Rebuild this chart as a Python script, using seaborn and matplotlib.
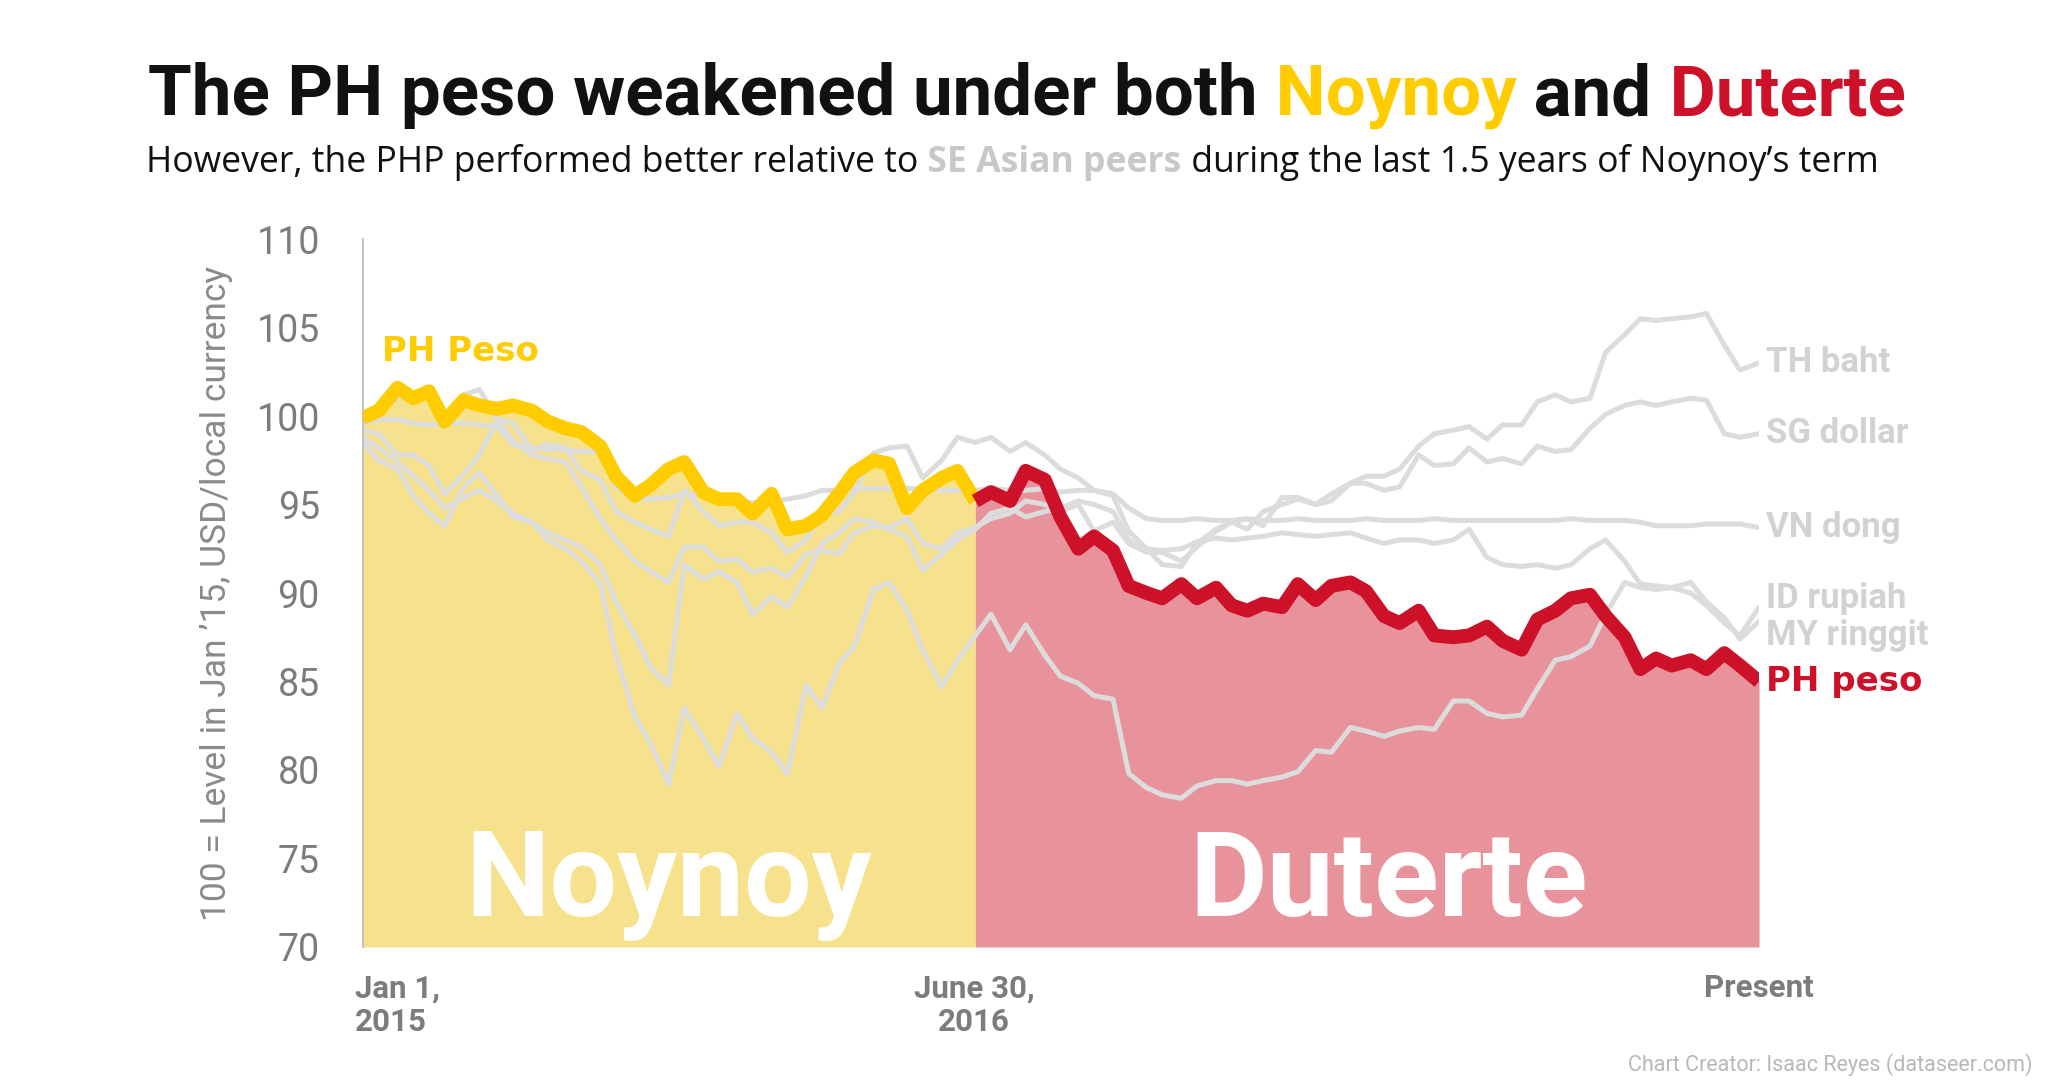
import pandas as pd
import matplotlib
matplotlib.use("Agg")
import matplotlib.pyplot as plt
import matplotlib.transforms as mtransforms
import seaborn as sns

sns.set_style("white")
plt.rcParams["font.family"] = ["Roboto", "DejaVu Sans"]

# semi-monthly readings, Jan 1 2015 -> Jun 1 2018 (83 points)
dates = pd.date_range("2015-01-01", "2018-06-01", freq="SMS")
term_change = pd.Timestamp("2016-06-30")
n_noynoy = 37  # points up to Jul 1 2016

ph_peso = [99.9, 100.3, 101.6, 101.0, 101.4, 99.7, 100.9, 100.6, 100.4, 100.6,
           100.3, 99.7, 99.3, 99.1, 98.3, 96.6, 95.5, 96.1, 97.0, 97.4,
           95.7, 95.3, 95.3, 94.5, 95.6, 93.6, 93.8, 94.4, 95.6, 96.8,
           97.5, 97.3, 94.8, 95.8, 96.5, 96.9, 95.2,
           95.7, 95.2, 96.9, 96.4, 94.3, 92.5, 93.2, 92.4, 90.4, 90.0,
           89.7, 90.5, 89.7, 90.3, 89.3, 89.0, 89.4, 89.2, 90.5, 89.6,
           90.4, 90.6, 90.1, 88.7, 88.3, 89.0, 87.6, 87.5, 87.6, 88.1,
           87.3, 86.8, 88.5, 89.0, 89.7, 89.9, 88.7, 87.5, 85.7, 86.3,
           85.9, 86.2, 85.7, 86.6, 85.9, 85.0]

th_baht = [99.6, 100.4, 101.0, 101.2, 101.3, 100.0, 101.2, 101.5, 99.8, 98.6,
           97.8, 97.6, 97.4, 96.0, 94.2, 93.0, 91.8, 91.2, 90.6, 92.6,
           92.6, 91.8, 91.9, 91.2, 91.4, 90.9, 92.2, 92.4, 92.2, 93.4,
           93.8, 93.7, 94.2, 92.8, 92.5, 93.4, 93.7,
           94.2, 94.5, 95.2, 95.0, 94.6, 95.0, 93.5, 94.0, 92.8, 92.3,
           92.3, 91.8, 92.6, 93.5, 94.0, 94.2, 93.8, 95.4, 95.4, 95.0,
           95.2, 96.2, 96.6,
           96.6, 97.0, 98.3, 99.0, 99.2, 99.4, 98.7, 99.5, 99.5, 100.8,
           101.2, 100.8, 101.0, 103.6, 104.6, 105.5, 105.4, 105.5, 105.6, 105.8,
           104.0, 102.6, 103.0]

sg_dollar = [99.2, 99.0, 97.8, 97.8, 97.2, 95.6, 96.7, 97.8, 99.8, 99.6,
             98.1, 98.4, 98.2, 96.9, 96.4, 94.6, 94.0, 93.6, 93.2, 95.8,
             94.6, 93.8, 94.0, 94.0, 93.4, 92.3, 93.0, 94.5, 94.6, 95.7,
             97.9, 98.2, 98.3, 96.5, 97.5, 98.8, 98.5,
             98.8, 98.0, 98.5, 97.8, 97.0, 96.5, 95.8, 95.5, 93.5, 92.5,
             91.6, 91.5, 92.8, 93.6, 94.0, 93.6, 94.6, 95.0, 95.3, 95.0,
             95.6, 96.2, 96.2,
             95.8, 96.0, 97.8, 97.2, 97.3, 98.2, 97.4, 97.6, 97.3, 98.3,
             98.0, 98.1, 99.3, 100.1, 100.6, 100.8, 100.6, 100.8, 101.0, 100.9,
             99.0, 98.8, 99.0]

vn_dong = [99.6, 99.8, 99.8, 99.6, 99.5, 99.6, 99.6, 99.5, 99.4, 98.4,
           98.2, 98.1, 98.1, 98.0, 98.0, 96.0, 95.3, 95.3, 95.4, 95.6,
           95.5, 95.3, 95.2, 95.1, 95.2, 95.3, 95.5, 95.8, 95.8, 95.9,
           95.9, 95.9, 95.9, 95.9, 95.8, 95.8, 95.8,
           95.9, 95.8, 95.8, 95.9, 95.7, 95.8, 95.8, 95.6, 94.8, 94.2,
           94.1, 94.1, 94.2, 94.1, 94.1, 94.2, 94.1, 94.1, 94.2, 94.1,
           94.1, 94.1, 94.2,
           94.1, 94.1, 94.1, 94.2, 94.1, 94.1, 94.1, 94.1, 94.1, 94.1,
           94.1, 94.2, 94.1, 94.1, 94.1, 94.0, 93.8, 93.8, 93.8, 93.9,
           93.9, 93.9, 93.7]

id_rupiah = [98.8, 98.2, 97.4, 96.6, 95.8, 94.8, 95.4, 95.8, 95.2, 94.5,
             94.0, 93.4, 93.0, 92.6, 91.6, 89.5, 87.6, 85.8, 84.8, 91.6,
             90.8, 91.2, 90.6, 88.8, 89.8, 89.2, 91.0, 92.8, 93.4, 94.2,
             94.0, 93.6, 93.2, 91.3, 92.2, 93.0, 93.6,
             94.5, 94.8, 94.3, 94.6, 94.8, 95.2, 95.0, 94.6, 93.0, 92.5,
             92.4, 92.5, 92.9, 93.1, 93.0, 93.1, 93.2, 93.4, 93.3, 93.2,
             93.3, 93.4, 93.1,
             92.8, 93.0, 93.0, 92.8, 93.0, 93.6, 92.0, 91.6, 91.5, 91.6,
             91.4, 91.6, 92.5, 93.0, 91.8, 90.5, 90.4, 90.3, 90.0, 89.3,
             88.3, 87.6, 89.2]

my_ringgit = [98.5, 97.5, 97.0, 95.5, 94.5, 93.8, 96.0, 96.8, 95.5, 94.3,
              94.0, 93.0, 92.5, 91.8, 90.5, 86.5, 83.0, 81.5, 79.2, 83.5,
              81.8, 80.2, 83.2, 81.8, 81.0, 79.8, 84.8, 83.5, 86.0, 87.0,
              90.2, 90.6, 89.0, 86.8, 84.7, 86.2, 87.6,
              88.8, 86.8, 88.2, 86.5, 85.3, 84.9, 84.2, 84.0, 79.8, 79.0,
              78.6, 78.4, 79.1, 79.4, 79.4, 79.2, 79.4, 79.6, 79.9, 81.1,
              81.0, 82.4, 82.2,
              81.9, 82.2, 82.4, 82.3, 83.9, 83.9, 83.2, 83.0, 83.1, 84.6,
              86.2, 86.4, 87.0, 88.8, 90.6, 90.3, 90.2, 90.3, 90.6, 89.5,
              88.6, 87.4, 88.4]

peer_names = ["TH baht", "SG dollar", "VN dong", "ID rupiah", "MY ringgit"]
peer_values = [th_baht, sg_dollar, vn_dong, id_rupiah, my_ringgit]
label_nudge = {"TH baht": 0, "SG dollar": 0, "VN dong": 0, "ID rupiah": 6, "MY ringgit": -10}

YELLOW = "#FFCC00"
RED = "#CC1129"
YELLOW_FILL = "#F6E28C"
RED_FILL = "#E8939B"
PEER_GRAY = "#DCDCDC"
LABEL_GRAY = "#D2D2D2"
AXIS_GRAY = "#7C7C7C"

peers = pd.concat(
    [pd.DataFrame({"date": dates, "value": v, "currency": n}) for n, v in zip(peer_names, peer_values)],
    ignore_index=True,
)
ph = pd.DataFrame({"date": dates, "value": ph_peso})
noynoy = ph.iloc[:n_noynoy]
duterte = ph.iloc[n_noynoy - 1:]

fig = plt.figure(figsize=(20.48, 10.85), dpi=100)
ax = fig.add_axes([0.1772, 0.1272, 0.6817, 0.6525])

ax.fill_between(noynoy["date"], 70, noynoy["value"], color=YELLOW_FILL, lw=0, zorder=1)
ax.fill_between(duterte["date"], 70, duterte["value"], color=RED_FILL, lw=0, zorder=1)

sns.lineplot(data=peers, x="date", y="value", hue="currency",
             palette={n: PEER_GRAY for n in peer_names}, estimator=None,
             linewidth=3.6, legend=False, ax=ax, zorder=2)
sns.lineplot(data=noynoy, x="date", y="value", color=YELLOW, linewidth=10,
             solid_capstyle="butt", solid_joinstyle="round", ax=ax, zorder=3)
sns.lineplot(data=duterte, x="date", y="value", color=RED, linewidth=10,
             solid_capstyle="butt", solid_joinstyle="round", ax=ax, zorder=3)

ax.set_xlim(dates[0], dates[-1])
ax.set_ylim(70, 110)
ax.set_yticks(range(70, 111, 5))
ax.set_xticks([dates[0], term_change, dates[-1]])
ax.set_xticklabels(["Jan 1,\n2015", "June 30,\n2016", "Present"])
ax.set_xlabel("")
ax.set_ylabel("100 = Level in Jan \u201915, USD/local currency", fontsize=25.5, color="#8A8A8A")
ax.yaxis.set_label_coords(-0.093, 0.5)

for s in ["top", "right", "bottom"]:
    ax.spines[s].set_visible(False)
ax.spines["left"].set_color("#BDBDBD")
ax.spines["left"].set_linewidth(1.3)
ax.tick_params(axis="y", length=11, width=1.3, color="#BDBDBD", pad=20,
               labelsize=27, labelcolor=AXIS_GRAY)
ax.tick_params(axis="x", length=13, width=1.3, color="#AAAAAA", pad=6,
               labelsize=22.5, labelcolor=AXIS_GRAY)
for i, lab in enumerate(ax.get_xticklabels()):
    lab.set_fontweight("bold")
    lab.set_linespacing(1.15)
    lab.set_verticalalignment("top")
    if i == 0:
        lab.set_horizontalalignment("left")
        lab.set_transform(lab.get_transform() +
                          mtransforms.ScaledTranslation(-8 / 100, 0, fig.dpi_scale_trans))

# series labels
heavy = ["DejaVu Sans"]
ax.annotate("PH Peso", xy=(dates[0], max(ph_peso[:n_noynoy])), xytext=(14, 26),
            textcoords="offset points", color=YELLOW, fontsize=24.5, fontweight="bold",
            family=heavy, va="center", ha="left")
for n, v in zip(peer_names, peer_values):
    ax.annotate(n, xy=(dates[-1], v[-1]), xytext=(5, label_nudge[n]),
                textcoords="offset points", color=LABEL_GRAY, fontsize=25,
                fontweight="bold", va="center", ha="left", annotation_clip=False)
ax.annotate("PH peso", xy=(dates[-1], ph_peso[-1]), xytext=(5, 0),
            textcoords="offset points", color=RED, fontsize=24.5, fontweight="bold",
            family=heavy, va="center", ha="left", annotation_clip=False)

# era labels
xtr = ax.get_xaxis_transform()
mid_noynoy = dates[0] + (term_change - dates[0]) / 2
mid_duterte = term_change + (dates[-1] - term_change) / 2
for txt, xm, dx in [("Noynoy", mid_noynoy, 0), ("Duterte", mid_duterte, 22)]:
    ax.text(xm, 0.044, txt, color="white", fontsize=86, fontweight="bold",
            ha="center", va="baseline", zorder=4,
            transform=xtr + mtransforms.ScaledTranslation(dx / 100, 0, fig.dpi_scale_trans))


def colored_line(x, y, parts, size, family):
    s, c, w = parts[0]
    t = fig.text(x, y, s, color=c, fontsize=size, fontweight=w, family=family,
                 va="baseline", ha="left")
    for s, c, w in parts[1:]:
        t = ax.annotate(s, xy=(1, 0), xycoords=t, va="bottom", ha="left", family=family,
                        color=c, fontsize=size, fontweight=w, annotation_clip=False)


colored_line(148 / 2048, 1 - 115 / 1085,
             [("The PH peso weakened under both", "#111111", "bold"),
              (" Noynoy", YELLOW, "bold"),
              (" and", "#111111", "bold"),
              (" Duterte", RED, "bold")], 51, ["Roboto", "DejaVu Sans"])
colored_line(146 / 2048, 1 - 172 / 1085,
             [("However, the PHP performed better relative to", "#111111", "normal"),
              (" SE Asian peers", "#C8C8C8", "bold"),
              (" during the last 1.5 years of Noynoy\u2019s term", "#111111", "normal")],
             25.6, ["Open Sans", "DejaVu Sans"])

fig.text(2032 / 2048, 1 - 1071 / 1085, "Chart Creator: Isaac Reyes (dataseer.com)",
         color="#B8B8B8", fontsize=15.5, ha="right", va="baseline")

fig.savefig("out.png", dpi=100)
